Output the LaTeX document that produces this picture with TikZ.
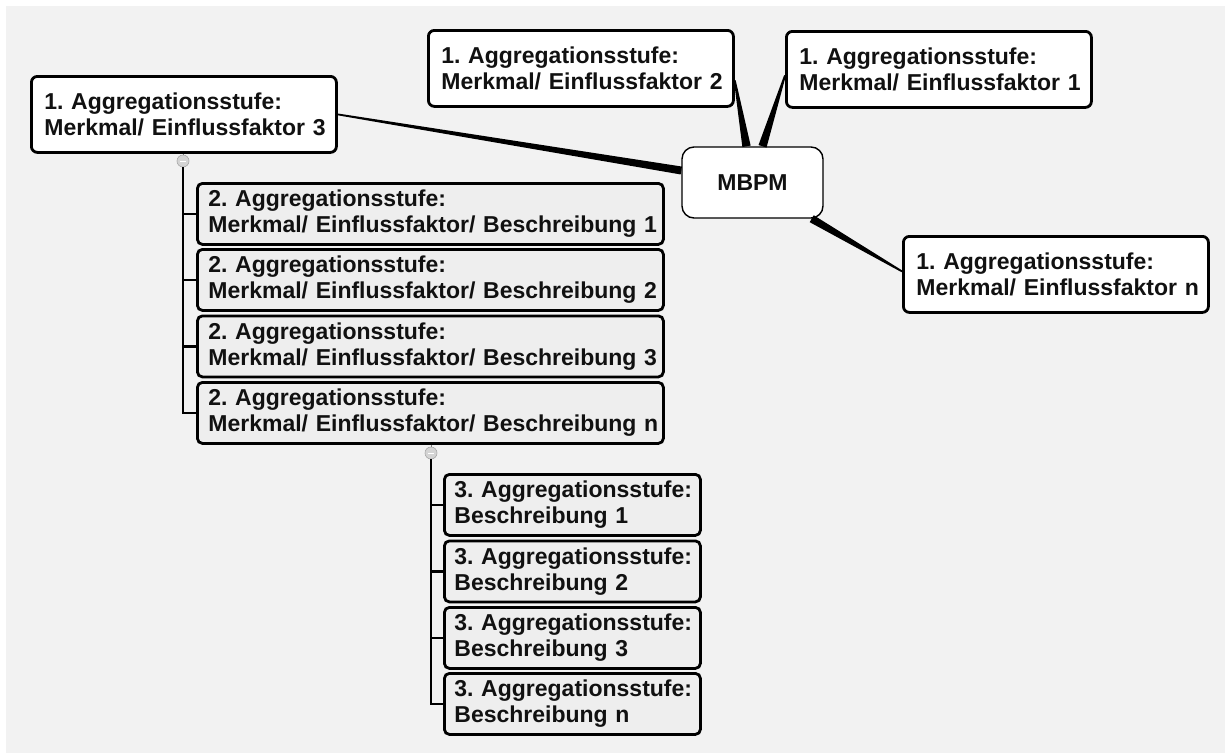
\documentclass[tikz,border=0pt]{standalone}
\usepackage{fontspec}
\setmainfont{Liberation Sans}
\usetikzlibrary{calc}
\frenchspacing

\definecolor{canvas}{HTML}{F2F2F2}
\definecolor{ink}{HTML}{111111}
\definecolor{subfill}{HTML}{EEEEEE}
\definecolor{knobfill}{HTML}{D4D4D4}
\definecolor{knobedge}{HTML}{A8A8A8}

% two-line label whose lines never wrap
\newcommand\twoline[2]{\mbox{#1}\\\mbox{#2}}

% tapered mind-map branch: from, to, half width at start, half width at end
\newcommand\taperlink[4]{%
  \fill[black] ($(#1)!#3!90:(#2)$) -- ($(#1)!#3!-90:(#2)$)
    -- ($(#2)!#4!90:(#1)$) -- ($(#2)!#4!-90:(#1)$) -- cycle;}

\tikzset{
  base/.style={draw=black, anchor=north west, align=left, inner ysep=0pt,
    font=\bfseries\fontsize{23}{26}\selectfont, text=ink},
  topic/.style={base, line width=2.8pt, rounded corners=6pt, fill=white,
    minimum height=76pt, text width=279pt, inner xsep=13pt},
  subtopic/.style={base, line width=2.8pt, rounded corners=5pt, fill=subfill,
    minimum height=61pt, text width=444pt, inner xsep=11pt},
  leaf/.style={subtopic, text width=236pt, inner xsep=10pt},
  hubnode/.style={draw=black, line width=1.4pt, rounded corners=12pt, fill=white,
    minimum width=141pt, minimum height=71pt, inner sep=0pt,
    font=\bfseries\fontsize{23}{26}\selectfont, text=ink},
  knob/.style={circle, fill=knobfill, draw=knobedge, line width=0.6pt,
    minimum size=12pt, inner sep=0pt},
  trunk/.style={black, line width=2.8pt},
  stem/.style={gray, line width=1pt},
}

\begin{document}
\begin{tikzpicture}[x=1pt, y=-1pt]
  % canvas with its thin white margin
  \useasboundingbox (0,0) rectangle (1225,753);
  \fill[white] (0,0) rectangle (1225,753);
  \fill[canvas] (6,6) rectangle (1225,753);

  % central topic
  \node[hubnode] (hub) at (752.5,182.5) {MBPM};

  % first level
  \node[topic] (f3) at (30,75)  {\twoline{1. Aggregationsstufe:}{Merkmal/ Einflussfaktor 3}};
  \node[topic] (f2) at (427,29) {\twoline{1. Aggregationsstufe:}{Merkmal/ Einflussfaktor 2}};
  \node[topic] (f1) at (785,30) {\twoline{1. Aggregationsstufe:}{Merkmal/ Einflussfaktor 1}};
  \node[topic] (fn) at (902,235) {\twoline{1. Aggregationsstufe:}{Merkmal/ Einflussfaktor n}};

  % second level
  \node[subtopic] (s1) at (196,182) {\twoline{2. Aggregationsstufe:}{Merkmal/ Einflussfaktor/ Beschreibung 1}};
  \node[subtopic] (s2) at (196,248) {\twoline{2. Aggregationsstufe:}{Merkmal/ Einflussfaktor/ Beschreibung 2}};
  \node[subtopic] (s3) at (196,314.5) {\twoline{2. Aggregationsstufe:}{Merkmal/ Einflussfaktor/ Beschreibung 3}};
  \node[subtopic] (s4) at (196,381) {\twoline{2. Aggregationsstufe:}{Merkmal/ Einflussfaktor/ Beschreibung n}};

  % third level
  \node[leaf] (b1) at (443,473) {\twoline{3. Aggregationsstufe:}{Beschreibung 1}};
  \node[leaf] (b2) at (443,539.5) {\twoline{3. Aggregationsstufe:}{Beschreibung 2}};
  \node[leaf] (b3) at (443,606) {\twoline{3. Aggregationsstufe:}{Beschreibung 3}};
  \node[leaf] (b4) at (443,672) {\twoline{3. Aggregationsstufe:}{Beschreibung n}};

  % branch ends on the nodes
  \coordinate (h3) at ([yshift=12pt]hub.west);
  \coordinate (h2) at ([xshift=-6pt]hub.north);
  \coordinate (h1) at ([xshift=10pt]hub.north);
  \coordinate (hn) at ([xshift=-12pt]hub.south east);
  \coordinate (e2) at ([yshift=-12pt]f2.east);
  \coordinate (e1) at ([yshift=-6pt]f1.west);
  \coordinate (en) at ([yshift=3pt]fn.west);

  % tapered branches from the central topic
  \taperlink{f3.east}{h3}{0.9pt}{4pt}
  \taperlink{e2}{h2}{0.9pt}{4.2pt}
  \taperlink{e1}{h1}{0.9pt}{4.2pt}
  \taperlink{en}{hn}{0.9pt}{4pt}

  % collapse knobs
  \node[knob] (k3) at (183,161) {};
  \node[knob] (k4) at (431,453) {};
  \draw[white, line width=0.9pt] ([xshift=-3pt]k3.center) -- ([xshift=3pt]k3.center);
  \draw[white, line width=0.9pt] ([xshift=-3pt]k4.center) -- ([xshift=3pt]k4.center);

  % second-level tree
  \draw[stem] (k3 |- f3.south) -- (k3.north);
  \draw[trunk] (k3.south) -- (k3 |- s4.west) -- (s4.west);
  \draw[trunk] (k3 |- s1.west) -- (s1.west);
  \draw[trunk] (k3 |- s2.west) -- (s2.west);
  \draw[trunk] (k3 |- s3.west) -- (s3.west);

  % third-level tree
  \draw[stem] (k4 |- s4.south) -- (k4.north);
  \draw[trunk] (k4.south) -- (k4 |- b4.west) -- (b4.west);
  \draw[trunk] (k4 |- b1.west) -- (b1.west);
  \draw[trunk] (k4 |- b2.west) -- (b2.west);
  \draw[trunk] (k4 |- b3.west) -- (b3.west);
\end{tikzpicture}
\end{document}
